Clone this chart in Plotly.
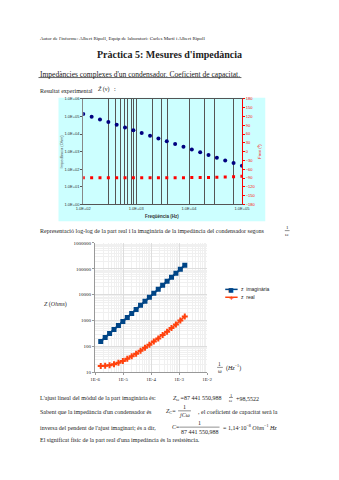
import numpy as np
import plotly.graph_objects as go

# Measured frequencies (Hz), 20 log-spaced steps from 100 Hz to 100 kHz
freq_hz = [100, 144, 207, 298, 428, 616, 886, 1274, 1833, 2637,
           3793, 5456, 7848, 11288, 16238, 23357, 33598, 48329, 69519, 100000]

# Imaginary and real parts of Z (Ohm), listed from high to low frequency,
# i.e. increasing 1/omega
z_imag = [155, 222, 317, 453, 648, 926, 1325, 1894, 2710, 3873,
          5540, 7920, 11320, 16190, 23150, 33100, 47330, 67670, 96760, 138350]
z_real = [17.4, 17.8, 18.6, 20.4, 23.4, 27.5, 33.1, 41.7, 52.5, 67.6,
          89, 117, 155, 204, 275, 372, 513, 708, 1000, 1450]

# Extra vertical grid lines of the Bode chart (Hz)
bode_grid_hz = [300, 400, 500, 600, 700, 800, 900, 2000, 3000, 4000,
                20000, 30000, 70000]

# Axis tick labels
bode_y_vals = [1, 10, 100, 1e3, 1e4, 1e5, 1e6]
bode_y_text = ["1.0E+00", "1.0E+01", "1.0E+02", "1.0E+03", "1.0E+04", "1.0E+05", "1.0E+06"]
bode_x_vals = [1e2, 1e3, 1e4, 1e5]
bode_x_text = ["1.0E+02", "1.0E+03", "1.0E+04", "1.0E+05"]
phase_vals = list(range(-180, 181, 30))
loglog_x_vals = [1e-6, 1e-5, 1e-4, 1e-3, 1e-2]
loglog_x_text = ["1E-6", "1E-5", "1E-4", "1E-3", "1E-2"]
loglog_y_vals = [10, 100, 1000, 10000, 100000, 1000000]
loglog_y_text = ["10", "100", "1000", "10000", "100000", "1000000"]

series_names = ["z  imaginària", "z  real"]
series_colors = ["#004586", "#ff420e"]

freq = np.array(freq_hz, dtype=float)
inv_omega = 1.0 / (2 * np.pi * freq[::-1])
zi = np.array(z_imag)
zr = np.array(z_real)
# Modulus and phase against frequency (ascending frequency)
z_mod = np.hypot(zi, zr)[::-1]
z_phase = -np.degrees(np.arctan2(zi, zr))[::-1]

W, H = 339, 480
SERIF = "Liberation Serif"
SANS = "Liberation Sans"


def px(x):
    return x / W


def py(y):
    return 1 - y / H


fig = go.Figure()

# ---- Bode chart: |Z| and phase vs frequency ----
fig.add_trace(go.Scatter(x=freq, y=z_mod, mode="markers", xaxis="x", yaxis="y",
                         marker=dict(symbol="circle", size=4, color="#000080"),
                         showlegend=False))
fig.add_trace(go.Scatter(x=freq, y=z_phase, mode="markers", xaxis="x", yaxis="y2",
                         marker=dict(symbol="square", size=3, color="#ff0000"),
                         showlegend=False))

# ---- log-log chart: real and imaginary parts vs 1/omega ----
fig.add_trace(go.Scatter(x=inv_omega, y=z_imag, mode="lines+markers", xaxis="x3", yaxis="y3",
                         name=series_names[0], showlegend=False,
                         line=dict(color=series_colors[0], width=2),
                         marker=dict(symbol="square", size=5, color=series_colors[0])))
fig.add_trace(go.Scatter(x=inv_omega, y=z_real, mode="lines+markers", xaxis="x3", yaxis="y3",
                         name=series_names[1], showlegend=False,
                         line=dict(color=series_colors[1], width=1.5),
                         marker=dict(symbol="cross", size=5, color=series_colors[1])))

tick_font = dict(family=SANS, size=4, color="#333333")

fig.update_layout(
    width=W, height=H,
    margin=dict(l=0, r=0, t=0, b=0),
    paper_bgcolor="white",
    plot_bgcolor="rgba(0,0,0,0)",
    showlegend=False,
    xaxis=dict(type="log", domain=[px(79), px(245.5)], range=[2, 5],
               anchor="y", tickmode="array", tickvals=bode_x_vals, ticktext=bode_x_text,
               tickfont=tick_font, ticks="", showline=True, linecolor="#555555",
               linewidth=1, mirror=True, showgrid=True, gridcolor="#555555", gridwidth=0.8,
               minor=dict(tickmode="array", tickvals=bode_grid_hz, showgrid=True,
                          gridcolor="#555555", gridwidth=0.8),
               zeroline=False),
    yaxis=dict(type="log", domain=[py(204), py(97)], range=[0, 6], anchor="x",
               tickmode="array", tickvals=bode_y_vals, ticktext=bode_y_text,
               tickfont=tick_font, ticks="outside", ticklen=2, tickcolor="#555555",
               showline=True, linecolor="#888888", linewidth=1, showgrid=False,
               zeroline=False),
    yaxis2=dict(overlaying="y", side="right", anchor="x", range=[-180, 180],
                tickmode="array", tickvals=phase_vals,
                tickfont=dict(family=SANS, size=4, color="#ff0000"),
                ticks="outside", ticklen=2, tickcolor="#ff0000",
                showline=True, linecolor="#ff0000", linewidth=1,
                showgrid=False, zeroline=False),
    xaxis3=dict(type="log", domain=[px(91.4), px(209)], range=[-6, -2], anchor="y3",
                tickmode="array", tickvals=loglog_x_vals, ticktext=loglog_x_text,
                tickfont=dict(family=SERIF, size=5, color="#222222"),
                ticks="outside", ticklen=2, tickcolor="#999999",
                showline=True, linecolor="#999999", linewidth=1,
                showgrid=True, gridcolor="#dddddd", gridwidth=0.6,
                minor=dict(dtick="D1", showgrid=True, gridcolor="#f0f0f0", gridwidth=0.5),
                zeroline=False),
    yaxis3=dict(type="log", domain=[py(374), py(243)], range=[1, 6], anchor="x3",
                tickmode="array", tickvals=loglog_y_vals, ticktext=loglog_y_text,
                tickfont=dict(family=SERIF, size=5, color="#222222"),
                ticks="outside", ticklen=2, tickcolor="#999999",
                showline=True, linecolor="#999999", linewidth=1,
                showgrid=True, gridcolor="#dddddd", gridwidth=0.6,
                minor=dict(dtick="D1", showgrid=True, gridcolor="#f0f0f0", gridwidth=0.5),
                zeroline=False),
)

shapes = []
# light cyan panel behind the Bode chart
shapes.append(dict(type="rect", xref="paper", yref="paper", layer="below",
                   x0=px(53), x1=px(270), y0=py(221), y1=py(96),
                   fillcolor="#ccffff", line=dict(width=0)))
# underline of the section heading
shapes.append(dict(type="line", xref="paper", yref="paper",
                   x0=px(32), x1=px(245), y0=py(75.5), y1=py(75.5),
                   line=dict(color="#222222", width=0.7)))


def frac_bar(x0, x1, y):
    shapes.append(dict(type="line", xref="paper", yref="paper",
                       x0=px(x0), x1=px(x1), y0=py(y), y1=py(y),
                       line=dict(color="#222222", width=0.5)))


annotations = []


def text(x, y, s, size=6, family=SERIF, color="#222222", anchor="left", angle=0):
    annotations.append(dict(x=px(x), y=py(y), xref="paper", yref="paper",
                            text=s, showarrow=False, xanchor=anchor, yanchor="middle",
                            textangle=angle,
                            font=dict(family=family, size=size, color=color)))


text(32, 36, "Autor de l'informe: Albert Ripoll, Equip de laboratori: Carles Martí i Albert Ripoll", size=5)
text(170, 52, "<b>Pràctica 5: Mesures d'impedància</b>", size=10, anchor="center")
text(32, 72, "Impedàncies complexes d'un condensador. Coeficient de capacitat.", size=7.5)
text(32, 89, "Resultat experimental", size=6)
text(92, 88, "<i>Z̃</i> (ν)   :", size=6)

# Bode chart axis titles
text(56, 150, "Impedància (Ohm)", size=4, family=SANS, color="#555555", anchor="center", angle=-90)
text(264, 150, "Fase (º)", size=4, family=SANS, color="#ff0000", anchor="center", angle=-90)
text(162, 216.5, "<b>Freqüència (Hz)</b>", size=4.5, family=SANS, color="#333333", anchor="center")

# caption of the log-log chart
text(32, 231, "Representació log-log de la part real i la imaginària de la impedància del condensador segons", size=6)
text(293, 227.5, "1", size=5, anchor="center")
frac_bar(290.5, 295.5, 230.5)
text(293, 234, "ω", size=5, anchor="center")

# log-log chart legend
legend_rows = [290, 298]
legend_glyphs = ["■", "<b>+</b>"]
for row, name, color, glyph in zip(legend_rows, series_names, series_colors, legend_glyphs):
    shapes.append(dict(type="line", xref="paper", yref="paper",
                       x0=px(228), x1=px(241), y0=py(row), y1=py(row),
                       line=dict(color=color, width=1.5)))
    text(234.5, row, glyph, size=6, family="DejaVu Sans", color=color, anchor="center")
    text(242.5, row, name, size=5, family=SANS, color="#222222")

# log-log axis titles
text(50, 305, "<i>Z</i> (<i>Ohms</i>)", size=6, anchor="center")
text(222.5, 365.5, "1", size=5.5, anchor="center")
frac_bar(219.5, 225.5, 369)
text(222.5, 372.5, "ω", size=5.5, anchor="center")
text(227, 369, "(<i>Hz</i><sup>−1</sup>)", size=6)

# linear fit and conclusions
text(32, 400, "L'ajust lineal del mòdul de la part imaginària és:", size=6)
text(171, 401, "<i>Z</i><sub>ω</sub> =87 441 550,988", size=6)
text(234, 397, "1", size=4.5, anchor="center")
frac_bar(232, 236, 399.5)
text(234, 402.5, "ω", size=4.5, anchor="center")
text(237, 401, "+98,5522", size=6)

text(32, 414, "Sabent que la impedància d'un condensador és", size=6)
text(164, 414, "<i>Z</i><sub>C</sub>=", size=6)
text(185, 409.5, "1", size=6, anchor="center")
frac_bar(178.5, 192, 413)
text(185, 417.5, "<i>jC</i>ω", size=6, anchor="center")
text(197, 414, ", el coeficient de capacitat serà la", size=6)

text(32, 430, "inversa del pendent de l'ajust imaginari; és a dir,", size=6)
text(170, 429.5, "<i>C</i>=", size=6)
text(201, 425.5, "1", size=6, anchor="center")
frac_bar(180, 222, 429.5)
text(201, 434, "87 441 550,988", size=6, anchor="center")
text(224, 429.5, "= 1,14·10<sup>−8</sup> <i>Ohm</i><sup>−1</sup> <i>Hz</i>", size=6)

text(32, 443, "El significat físic de la part real d'una impedància és la resistència.", size=6)

fig.update_layout(shapes=shapes, annotations=annotations)

fig.write_html("out.html")
